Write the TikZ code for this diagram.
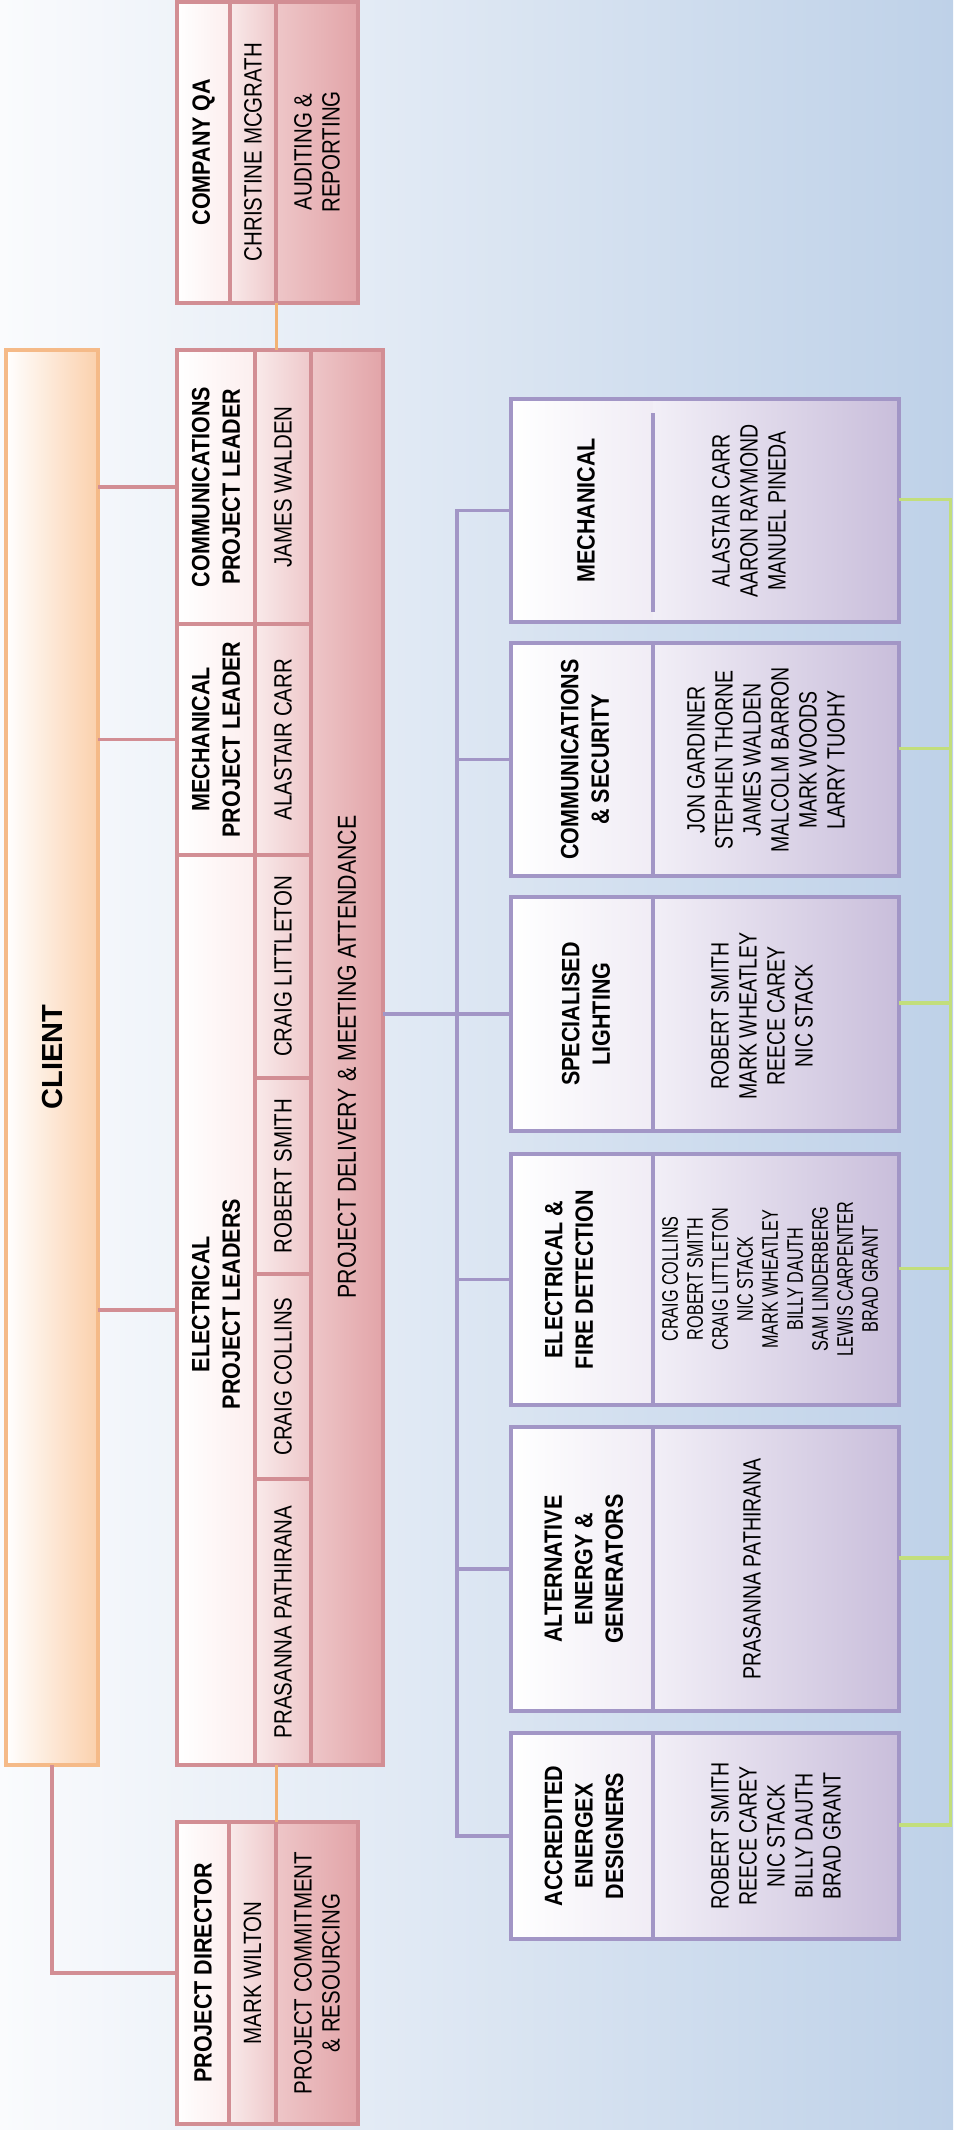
\documentclass[tikz,border=0pt]{standalone}
\usepackage{fontspec}
\setmainfont{Liberation Sans}
\newfontfamily\fHdr[FakeStretch=0.86]{Liberation Sans}
\newfontfamily\fName[FakeStretch=0.82]{Liberation Sans}
\newfontfamily\fPur[FakeStretch=0.78]{Liberation Sans}
\newfontfamily\fPurS[FakeStretch=0.72]{Liberation Sans}
\definecolor{bgL}{RGB}{250,251,253}
\definecolor{bgR}{RGB}{190,209,232}
\definecolor{pinkB}{RGB}{210,142,148}
\definecolor{hdrR}{RGB}{252,238,238}
\definecolor{nmL}{RGB}{249,234,234}
\definecolor{nmR}{RGB}{238,200,202}
\definecolor{rlL}{RGB}{238,198,200}
\definecolor{rlR}{RGB}{226,164,168}
\definecolor{cliB}{RGB}{245,186,136}
\definecolor{cliR}{RGB}{251,208,172}
\definecolor{purB}{RGB}{162,150,198}
\definecolor{phR}{RGB}{240,236,245}
\definecolor{pnL}{RGB}{242,239,247}
\definecolor{pnR}{RGB}{201,190,219}
\definecolor{grn}{RGB}{194,222,124}
\definecolor{orn}{RGB}{242,178,116}
\newcommand\mycell[7]{\node[cell,left color=#6,right color=#7,minimum width=#4pt-#2pt,minimum height=#5pt-#3pt] (#1) at (#2,#3) {};}
\newcommand\purbox[3]{%
  \node[cell,left color=white,right color=phR,minimum width=142pt,minimum height=#3pt-#2pt] (#1H) at (511,#2) {};
  \node[cell,left color=pnL,right color=pnR,minimum width=246pt,minimum height=#3pt-#2pt] (#1N) at (653,#2) {};
  \node[purframe,minimum width=388pt,minimum height=#3pt-#2pt] (#1) at (511,#2) {};}
\begin{document}
\begin{tikzpicture}[x=1pt,y=-1pt,
  cell/.style={rectangle,draw=none,inner sep=0pt,outer sep=0pt,anchor=north west},
  pinkframe/.style={rectangle,draw=pinkB,line width=3.5pt,inner sep=0pt,outer sep=0pt,anchor=north west},
  purframe/.style={rectangle,draw=purB,line width=3.5pt,inner sep=0pt,outer sep=0pt,anchor=north west},
  pinkdiv/.style={draw=pinkB,line width=3.5pt},
  purdiv/.style={draw=purB,line width=3.5pt},
  pinkline/.style={draw=pinkB,line width=3.5pt},
  orangeline/.style={draw=orn,line width=3pt},
  purline/.style={draw=purB,line width=3.5pt},
  greenline/.style={draw=grn,line width=3.3pt},
  hdr/.style={rotate=90,align=center,inner sep=0pt,font=\fHdr\bfseries\fontsize{25}{30.5}\selectfont},
  nm/.style={rotate=90,align=center,inner sep=0pt,font=\fName\fontsize{25}{28}\selectfont},
  pnm/.style={rotate=90,align=center,inner sep=0pt,font=\fPur\fontsize{25}{28}\selectfont},
  pnms/.style={rotate=90,align=center,inner sep=0pt,font=\fPurS\fontsize{22.5}{25}\selectfont},
  big/.style={rotate=90,align=center,inner sep=0pt,font=\bfseries\fontsize{29}{34}\selectfont}
]
\useasboundingbox (0,0) rectangle (953,2130);
\shade[left color=bgL,right color=bgR] (0,0) rectangle (953,2130);

% ---------- Company QA ----------
\mycell{qaHdr}{177}{2}{230}{303}{white}{hdrR}
\mycell{qaName}{230}{2}{276}{303}{nmL}{nmR}
\mycell{qaRole}{276}{2}{358}{303}{rlL}{rlR}
\node[pinkframe,minimum width=181pt,minimum height=301pt] (qa) at (177,2) {};
\draw[pinkdiv] (qaHdr.north east) -- (qaHdr.south east);
\draw[pinkdiv] (qaName.north east) -- (qaName.south east);

% ---------- Leaders ----------
\mycell{lCommH}{177}{350}{255}{624}{white}{hdrR}
\mycell{lMechH}{177}{624}{255}{855}{white}{hdrR}
\mycell{lElecH}{177}{855}{255}{1765}{white}{hdrR}
\mycell{lNames}{255}{350}{311}{1765}{nmL}{nmR}
\mycell{lDeliv}{311}{350}{383}{1765}{rlL}{rlR}
\node[pinkframe,minimum width=206pt,minimum height=1415pt] (leaders) at (177,350) {};
\draw[pinkdiv] (lNames.north west) -- (lNames.south west);
\draw[pinkdiv] (lNames.north east) -- (lNames.south east);
\draw[pinkdiv] (177,624) -- (311,624);
\draw[pinkdiv] (177,855) -- (311,855);
\draw[pinkdiv] (255,1078) -- (311,1078);
\draw[pinkdiv] (255,1274) -- (311,1274);
\draw[pinkdiv] (255,1479) -- (311,1479);

% ---------- Project director ----------
\mycell{dHdr}{177}{1822}{229}{2124}{white}{hdrR}
\mycell{dName}{229}{1822}{276}{2124}{nmL}{nmR}
\mycell{dRole}{276}{1822}{358}{2124}{rlL}{rlR}
\node[pinkframe,minimum width=181pt,minimum height=302pt] (director) at (177,1822) {};
\draw[pinkdiv] (dHdr.north east) -- (dHdr.south east);
\draw[pinkdiv] (dName.north east) -- (dName.south east);

% ---------- Client ----------
\node[cell,left color=white,right color=cliR,draw=cliB,line width=3.5pt,minimum width=92pt,minimum height=1415pt] (client) at (6,350) {};

% ---------- Purple boxes ----------
\purbox{mec}{399}{622}
\purbox{com}{643}{876}
\purbox{lig}{897}{1131}
\purbox{ele}{1154}{1405}
\purbox{alt}{1427}{1711}
\purbox{acc}{1733}{1939}
\draw[purdiv] (653,413) -- (653,612);
\foreach \b in {com,lig,ele,alt,acc} \draw[purdiv] (\b H.north east) -- (\b H.south east);

% ---------- Connectors ----------
\draw[pinkline] (lCommH.west -| client.east) -- (lCommH.west);
\draw[pinkline] (lMechH.west -| client.east) -- (lMechH.west);
\draw[pinkline] (lElecH.west -| client.east) -- (lElecH.west);
\draw[pinkline] (client.south) |- (dHdr.west);
\draw[orangeline] (qaName.south east) -- (qaName.south east |- leaders.north);
\draw[orangeline] (dName.north east |- leaders.south) -- (dName.north east);

\coordinate (bus) at (457,0);
\draw[purline] (mec.west) -| (bus |- acc.west) -- (acc.west);
\foreach \b in {com,ele,alt} \draw[purline] (bus |- \b.west) -- (\b.west);
\draw[purline] (leaders.east |- lig.west) -- (lig.west);

\coordinate (gbus) at (950.5,0);
\foreach \b in {mec,com,lig,ele,alt,acc} \coordinate (g\b) at ([yshift=11pt]\b.east);
\draw[greenline] (gmec) -| (gbus |- gacc) -- (gacc);
\foreach \b in {com,lig,ele,alt} \draw[greenline] (g\b) -- (gbus |- g\b);

% ---------- Texts ----------
\node[big] (tClient) at (53,1057) {CLIENT};

\node[hdr] (tQa) at (203.5,152) {COMPANY QA};
\node[nm] (tQaName) at (253,152) {CHRISTINE MCGRATH};
\node[nm] (tQaRole) at (317,152) {AUDITING \&\\REPORTING};

\node[hdr] (tComm) at (216,487) {COMMUNICATIONS\\PROJECT LEADER};
\node[hdr] (tMech) at (216,739.5) {MECHANICAL\\PROJECT LEADER};
\node[hdr] (tElec) at (216,1304) {ELECTRICAL\\PROJECT LEADERS};
\node[nm] (nJW) at (283,487) {JAMES WALDEN};
\node[nm] (nAC) at (283,739.5) {ALASTAIR CARR};
\node[nm] (nCL) at (283,966.5) {CRAIG LITTLETON};
\node[nm] (nRS) at (283,1176) {ROBERT SMITH};
\node[nm] (nCC) at (283,1376.5) {CRAIG COLLINS};
\node[nm] (nPP) at (283,1622) {PRASANNA PATHIRANA};
\node[nm,font=\fName\fontsize{26}{28}\selectfont] (tDeliv) at (347,1057) {PROJECT DELIVERY \& MEETING ATTENDANCE};

\node[hdr] (tDir) at (203,1973) {PROJECT DIRECTOR};
\node[nm] (tDirName) at (252.5,1973) {MARK WILTON};
\node[nm] (tDirRole) at (317,1973) {PROJECT COMMITMENT\\\& RESOURCING};

\node[hdr] (hMec) at (586,510.5) {MECHANICAL};
\node[hdr] (hCom) at (585,759.5) {COMMUNICATIONS\\\& SECURITY};
\node[hdr] (hLig) at (586,1014) {SPECIALISED\\LIGHTING};
\node[hdr] (hEle) at (569,1279.5) {ELECTRICAL \&\\FIRE DETECTION};
\node[hdr] (hAlt) at (584,1569) {ALTERNATIVE\\ENERGY \&\\GENERATORS};
\node[hdr] (hAcc) at (584,1836) {ACCREDITED\\ENERGEX\\DESIGNERS};

\node[pnm] (pMec) at (749,511) {ALASTAIR CARR\\AARON RAYMOND\\MANUEL PINEDA};
\node[pnm] (pCom) at (766,760) {JON GARDINER\\STEPHEN THORNE\\JAMES WALDEN\\MALCOLM BARRON\\MARK WOODS\\LARRY TUOHY};
\node[pnm] (pLig) at (762,1016) {ROBERT SMITH\\MARK WHEATLEY\\REECE CAREY\\NIC STACK};
\node[pnms] (pEle) at (770,1279) {CRAIG COLLINS\\ROBERT SMITH\\CRAIG LITTLETON\\NIC STACK\\MARK WHEATLEY\\BILLY DAUTH\\SAM LINDERBERG\\LEWIS CARPENTER\\BRAD GRANT};
\node[pnm] (pAlt) at (752,1569) {PRASANNA PATHIRANA};
\node[pnm] (pAcc) at (776,1836) {ROBERT SMITH\\REECE CAREY\\NIC STACK\\BILLY DAUTH\\BRAD GRANT};
\end{tikzpicture}
\end{document}
